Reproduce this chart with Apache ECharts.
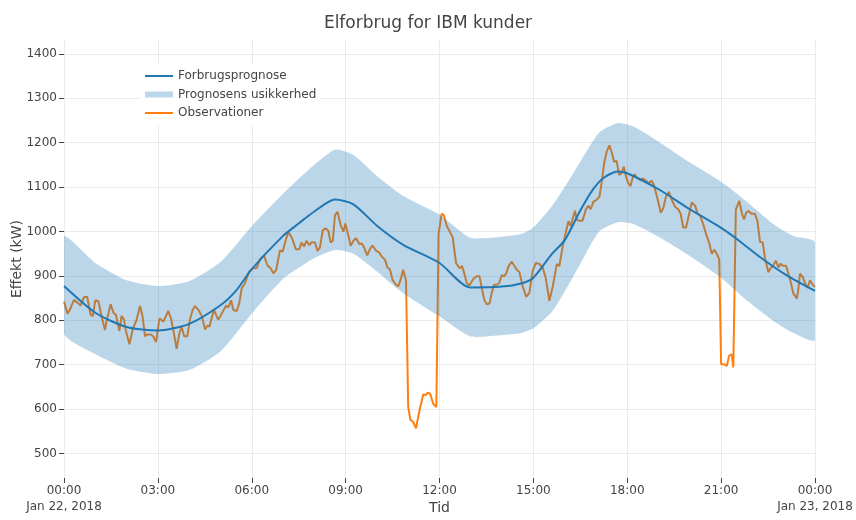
<!DOCTYPE html>
<html>
<head>
<meta charset="utf-8">
<script src="https://cdn.jsdelivr.net/npm/echarts@6/dist/echarts.min.js"></script>
<style>
html, body { margin: 0; padding: 0; background: #fff; }
#chart { width: 856px; height: 520px; }
</style>
</head>
<body>
<div id="chart"></div>
<script>
// akse-ticks
const xTicks = [0, 3, 6, 9, 12, 15, 18, 21, 24];
const yTicks = [500, 600, 700, 800, 900, 1000, 1100, 1200, 1300, 1400];

// prognose (timer, kW)
const forecastHours = [0, 1, 2, 3, 4, 5, 5.5, 6, 7, 7.5, 8, 8.66, 9.25, 10, 10.84, 12, 12.98, 14, 14.6, 15, 15.6, 16, 16.5, 16.9, 17.25, 17.7, 18, 19, 20, 21, 21.5, 22.25, 23.1, 24];
const forecastKW = [877, 817, 785, 777, 792, 834, 867, 915, 990, 1018, 1045, 1072, 1061, 1013, 970, 929, 874, 876, 883, 896, 950, 980, 1047, 1094, 1121, 1135, 1131, 1095, 1050, 1008, 983, 942, 901, 866];

// usikkerhedsbånd
const bandHours = [0, 1, 2, 3, 4, 5, 6, 7, 8, 8.66, 9.25, 10, 10.84, 12, 12.98, 14, 14.6, 15, 15.6, 16, 16.5, 17.1, 17.7, 18.2, 19, 20, 21, 21.8, 22.7, 23.3, 24];
const bandUpper = [988, 929, 890, 877, 888, 931, 1012, 1085, 1150, 1184, 1172, 1125, 1080, 1038, 986, 988, 994, 1009, 1058, 1100, 1157, 1222, 1244, 1236, 1202, 1155, 1112, 1068, 1015, 990, 976];
const bandLower = [770, 724, 691, 679, 688, 730, 815, 893, 940, 958, 950, 910, 861, 809, 764, 767, 771, 782, 820, 865, 927, 1000, 1021, 1017, 988, 945, 896, 846, 797, 772, 755];

// observationer
const obsHours = [
  0.00, 0.11, 0.19, 0.32, 0.46, 0.53, 0.64, 0.74, 0.85, 0.92, 1.00, 1.10, 1.20, 1.31, 1.36, 1.49, 1.58, 1.66, 1.77, 1.84,
  1.92, 1.97, 2.09, 2.20, 2.32, 2.43, 2.51, 2.59, 2.66, 2.77, 2.85, 2.94, 3.05, 3.10, 3.18, 3.33, 3.42, 3.52, 3.60, 3.69,
  3.76, 3.84, 3.94, 4.03, 4.11, 4.19, 4.30, 4.40, 4.51, 4.58, 4.65, 4.79, 4.86, 4.93, 5.04, 5.18, 5.25, 5.34, 5.41, 5.52,
  5.60, 5.68, 5.78, 5.92, 6.05, 6.16, 6.26, 6.39, 6.50, 6.60, 6.69, 6.78, 6.90, 6.99, 7.10, 7.17, 7.28, 7.41, 7.52, 7.59,
  7.67, 7.75, 7.84, 7.92, 8.02, 8.10, 8.18, 8.27, 8.37, 8.45, 8.52, 8.59, 8.66, 8.74, 8.84, 8.93, 8.99, 9.09, 9.16, 9.25,
  9.33, 9.44, 9.52, 9.59, 9.69, 9.78, 9.86, 9.97, 10.07, 10.15, 10.26, 10.33, 10.42, 10.50, 10.61, 10.68, 10.76, 10.84, 10.93, 11.00,
  11.07, 11.16, 11.25, 11.36, 11.48, 11.56, 11.63, 11.70, 11.80, 11.90, 11.97, 12.07, 12.14, 12.23, 12.34, 12.42, 12.53, 12.64, 12.72, 12.79,
  12.87, 12.95, 13.08, 13.19, 13.28, 13.35, 13.43, 13.51, 13.60, 13.67, 13.74, 13.83, 13.91, 13.99, 14.06, 14.13, 14.21, 14.31, 14.38, 14.47,
  14.55, 14.66, 14.77, 14.87, 14.98, 15.08, 15.19, 15.30, 15.40, 15.51, 15.62, 15.75, 15.83, 15.94, 16.01, 16.12, 16.19, 16.25, 16.33, 16.38,
  16.47, 16.57, 16.68, 16.76, 16.83, 16.92, 17.00, 17.11, 17.18, 17.26, 17.34, 17.43, 17.50, 17.58, 17.66, 17.74, 17.82, 17.89, 17.96, 18.03,
  18.10, 18.17, 18.24, 18.31, 18.41, 18.50, 18.60, 18.67, 18.78, 18.85, 18.96, 19.07, 19.15, 19.24, 19.33, 19.42, 19.53, 19.63, 19.71, 19.79,
  19.88, 19.95, 20.06, 20.17, 20.24, 20.33, 20.41, 20.52, 20.62, 20.70, 20.78, 20.86, 20.94, 21.00, 21.10, 21.18, 21.26, 21.34, 21.39, 21.47,
  21.58, 21.66, 21.73, 21.80, 21.87, 21.97, 22.08, 22.16, 22.24, 22.33, 22.40, 22.51, 22.58, 22.66, 22.75, 22.83, 22.90, 22.97, 23.07, 23.14,
  23.21, 23.31, 23.42, 23.47, 23.52, 23.61, 23.69, 23.76, 23.84, 23.92, 24.00
];
const obsKW = [
  842, 815, 824, 846, 838, 833, 852, 853, 813, 809, 845, 843, 809, 778, 798, 836, 817, 812, 776, 810,
  801, 779, 746, 781, 801, 832, 809, 764, 768, 768, 764, 751, 804, 808, 797, 821, 804, 768, 736, 772,
  785, 764, 764, 803, 823, 832, 823, 810, 779, 788, 786, 824, 812, 801, 815, 833, 829, 845, 823, 821,
  838, 872, 883, 910, 917, 918, 937, 946, 924, 917, 906, 913, 957, 955, 984, 999, 986, 960, 960, 975,
  966, 979, 969, 976, 975, 956, 964, 1003, 1007, 1001, 975, 979, 1037, 1044, 1015, 999, 1018, 990, 968, 979,
  985, 972, 973, 964, 946, 961, 968, 957, 953, 944, 936, 920, 914, 891, 880, 876, 892, 914, 889, 605,
  576, 571, 557, 597, 633, 632, 637, 635, 612, 605, 994, 1040, 1037, 1013, 998, 987, 929, 917, 922, 906,
  884, 878, 893, 899, 899, 873, 846, 836, 838, 862, 880, 880, 884, 902, 899, 905, 922, 932, 924, 914,
  909, 876, 853, 861, 912, 929, 927, 918, 894, 844, 876, 927, 922, 968, 990, 1023, 1012, 1027, 1047, 1027,
  1024, 1024, 1050, 1058, 1050, 1067, 1070, 1078, 1109, 1153, 1179, 1194, 1179, 1157, 1159, 1127, 1131, 1146, 1124, 1109,
  1102, 1120, 1129, 1121, 1116, 1119, 1114, 1109, 1114, 1105, 1076, 1042, 1052, 1079, 1089, 1072, 1055, 1050, 1039, 1009,
  1009, 1031, 1065, 1058, 1042, 1035, 1020, 994, 974, 950, 959, 950, 937, 701, 701, 697, 721, 723, 694, 1049,
  1069, 1042, 1027, 1042, 1046, 1040, 1040, 1023, 977, 975, 941, 908, 917, 923, 934, 919, 927, 923, 923, 908,
  890, 860, 849, 871, 905, 897, 882, 873, 890, 881, 875
];

const fontFamily = '"DejaVu Sans", Verdana, sans-serif';
const textColor = '#444';
const lineIcon = 'path://M0,0L28,0L28,2L0,2Z';

function zip(xs, ys) {
    return xs.map((x, i) => [x, ys[i]]);
}

function xLabel(value) {
    if (value === 0) return '00:00\nJan 22, 2018';
    if (value === 24) return '00:00\nJan 23, 2018';
    return String(value).padStart(2, '0') + ':00';
}

// båndet tegnes som én polygon: øvre kant frem, nedre kant tilbage
function renderBand(params, api) {
    if (params.dataIndex !== 0) return null;
    const pts = [];
    for (let i = 0; i < bandHours.length; i++) pts.push(api.coord([bandHours[i], bandUpper[i]]));
    for (let i = bandHours.length - 1; i >= 0; i--) pts.push(api.coord([bandHours[i], bandLower[i]]));
    return {
        type: 'polygon',
        shape: { points: pts, smooth: 0.2 },
        style: { fill: 'rgba(31,119,180,0.3)' }
    };
}

const chart = echarts.init(document.getElementById('chart'), null, { renderer: 'canvas' });
chart.setOption({
    animation: false,
    textStyle: { fontFamily: fontFamily },
    title: {
        text: 'Elforbrug for IBM kunder',
        left: 'center',
        top: 10,
        textStyle: { fontSize: 17, fontWeight: 'normal', color: textColor, fontFamily: fontFamily }
    },
    legend: {
        orient: 'vertical',
        left: 140,
        top: 64,
        padding: 5,
        itemGap: 4.5,
        itemWidth: 28,
        itemHeight: 6,
        backgroundColor: '#fff',
        textStyle: { fontSize: 12, color: textColor, lineHeight: 14, fontFamily: fontFamily },
        data: [
            { name: 'Forbrugsprognose', icon: lineIcon, itemStyle: { color: '#1f77b4', borderWidth: 0 } },
            { name: 'Prognosens usikkerhed', icon: 'rect', itemStyle: { color: '#bcd6ea', borderWidth: 0 } },
            { name: 'Observationer', icon: lineIcon, itemStyle: { color: '#ff7f0e', borderWidth: 0 } }
        ]
    },
    grid: { left: 64, right: 41, top: 40, bottom: 36 },
    xAxis: {
        type: 'value',
        min: 0,
        max: 24,
        interval: 3,
        name: 'Tid',
        nameLocation: 'middle',
        nameGap: 23,
        nameMoveOverlap: false,
        nameTextStyle: { fontSize: 14, color: textColor },
        axisLine: { show: false },
        axisTick: { show: true, length: 5, lineStyle: { color: textColor } },
        axisLabel: {
            color: textColor, fontSize: 12, lineHeight: 16, margin: 5,
            showMinLabel: true, showMaxLabel: true, hideOverlap: false,
            formatter: xLabel
        },
        splitLine: { show: true, lineStyle: { color: '#ebebeb', width: 1 } }
    },
    yAxis: {
        type: 'value',
        min: 445,
        max: 1431,
        name: 'Effekt (kW)',
        nameLocation: 'middle',
        nameGap: 40,
        nameMoveOverlap: false,
        nameTextStyle: { fontSize: 14, color: textColor },
        axisLine: { show: false },
        axisTick: { show: true, length: 5, lineStyle: { color: textColor }, customValues: yTicks },
        axisLabel: { color: textColor, fontSize: 12, margin: 7, customValues: yTicks, formatter: v => String(v) },
        splitLine: { show: true, lineStyle: { color: '#ebebeb', width: 1 } }
    },
    series: [
        {
            name: 'Observationer',
            type: 'line',
            z: 1,
            data: zip(obsHours, obsKW),
            symbol: 'none',
            color: '#ff7f0e',
            lineStyle: { color: '#ff7f0e', width: 2 }
        },
        {
            name: 'Prognosens usikkerhed',
            type: 'custom',
            z: 2,
            clip: true,
            color: '#bcd6ea',
            renderItem: renderBand,
            data: bandHours.map((h, i) => [h, bandLower[i], bandUpper[i]]),
            encode: { x: 0, y: [1, 2] }
        },
        {
            name: 'Forbrugsprognose',
            type: 'line',
            z: 3,
            data: zip(forecastHours, forecastKW),
            symbol: 'none',
            smooth: 0.25,
            color: '#1f77b4',
            lineStyle: { color: '#1f77b4', width: 2 }
        }
    ]
});
</script>
</body>
</html>
